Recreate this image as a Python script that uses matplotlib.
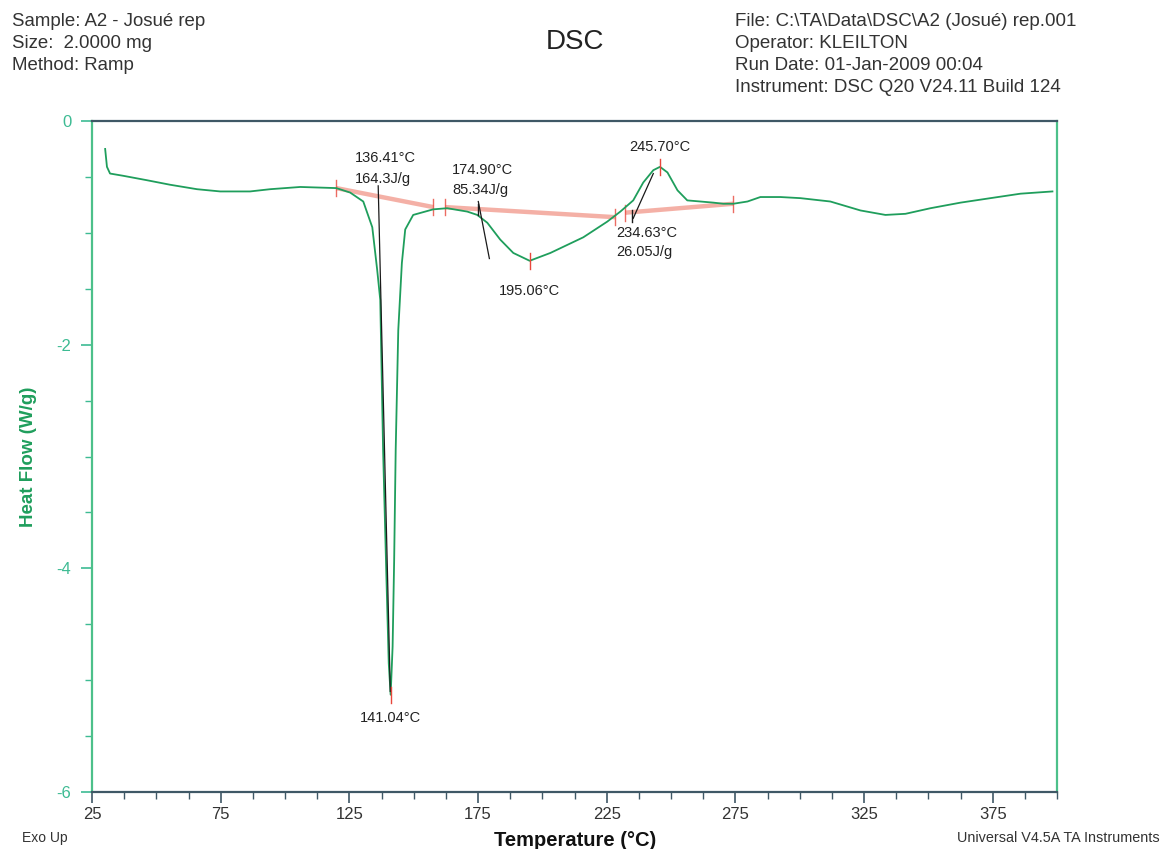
import numpy as np
import matplotlib.pyplot as plt
from matplotlib.ticker import MultipleLocator

plt.rcParams["font.family"] = ["Liberation Sans", "DejaVu Sans"]
plt.rcParams["axes.unicode_minus"] = False

# ------------------------------------------------------------
# DSC trace (temperature in degC, heat flow in W/g)
# ------------------------------------------------------------
TEMP = [30.1, 30.8, 32.0, 37.1, 46.4, 55.3, 65.8, 74.8, 86.4, 94.2,
        105.9, 119.9, 125.3, 130.4, 133.9, 135.8, 137.0, 138.1, 139.3, 140.3,
        141.04, 141.8, 142.4, 143.0, 144.0, 145.4, 146.7, 149.8, 157.6, 163.0,
        170.8, 174.7, 178.6, 183.6, 188.7, 195.06, 203.1, 215.9, 225.2, 230.3,
        235.3, 239.2, 243.1, 245.70, 248.6, 252.5, 256.3, 261.4, 266.4, 270.3,
        274.2, 279.7, 284.7, 292.5, 300.3, 311.9, 323.6, 333.3, 341.1, 350.8,
        362.5, 374.1, 385.8, 398.2]
HEAT_FLOW = [-0.25, -0.41, -0.47, -0.49, -0.53, -0.57, -0.61, -0.63, -0.63, -0.61,
             -0.59, -0.60, -0.64, -0.72, -0.95, -1.33, -1.60, -2.94, -4.00, -4.85,
             -5.13, -4.70, -3.93, -2.94, -1.87, -1.27, -0.97, -0.84, -0.79, -0.78,
             -0.81, -0.84, -0.91, -1.06, -1.18, -1.25, -1.18, -1.04, -0.90, -0.81,
             -0.71, -0.55, -0.44, -0.41, -0.46, -0.62, -0.71, -0.72, -0.73, -0.74,
             -0.74, -0.72, -0.68, -0.68, -0.69, -0.72, -0.80, -0.84, -0.83, -0.78,
             -0.73, -0.69, -0.65, -0.63]

# peak analysis results
PEAK_T = [141.04, 195.06, 245.70]
PEAK_HF = [-5.13, -1.25, -0.41]

ONSET_T = [136.41, 174.90, 234.63]
ONSET_HF = [-0.62, -0.79, -0.85]
ENTHALPY = [164.3, 85.34, 26.05]

# integration baselines (start T, start HF, end T, end HF)
BASE_T0 = [119.9, 162.2, 232.2]
BASE_HF0 = [-0.60, -0.77, -0.82]
BASE_T1 = [157.6, 228.3, 274.2]
BASE_HF1 = [-0.77, -0.86, -0.74]

# tangent lines at the onsets
TAN_T0 = [136.2, 175.1, 235.3]
TAN_HF0 = [-0.58, -0.72, -0.87]
TAN_T1 = [140.9, 179.4, 243.1]
TAN_HF1 = [-5.10, -1.23, -0.47]

HEADER_LEFT = ["Sample: A2 - Josué rep", "Size:  2.0000 mg", "Method: Ramp"]
HEADER_RIGHT = ["File: C:\\TA\\Data\\DSC\\A2 (Josué) rep.001",
                "Operator: KLEILTON",
                "Run Date: 01-Jan-2009 00:04",
                "Instrument: DSC Q20 V24.11 Build 124"]

GREEN = "#1f9e5c"
TEAL = "#3dbb93"
SPINE_DARK = "#3f5866"
SALMON = "#f3a397"
MARK_RED = "#e8473c"

# ------------------------------------------------------------
# figure
# ------------------------------------------------------------
fig = plt.figure(figsize=(11.62, 8.49), dpi=100)
ax = fig.add_axes([0.0792, 0.0671, 0.8305, 0.7904])

# baselines
for t0, h0, t1, h1 in zip(BASE_T0, BASE_HF0, BASE_T1, BASE_HF1):
    ax.plot([t0, t1], [h0, h1], color=SALMON, lw=3.2, alpha=0.85,
            solid_capstyle="butt", zorder=2)
    for t, h in ((t0, h0), (t1, h1)):
        ax.plot([t, t], [h - 0.07, h + 0.07], color=MARK_RED, lw=1.0,
                alpha=0.8, zorder=2)

ax.plot(TEMP, HEAT_FLOW, color=GREEN, lw=1.3, zorder=3)

# tangents
for t0, h0, t1, h1 in zip(TAN_T0, TAN_HF0, TAN_T1, TAN_HF1):
    ax.plot([t0, t1], [h0, h1], color="#1a1a1a", lw=0.9, zorder=4)

# onset markers
for t, h in zip(ONSET_T[1:], ONSET_HF[1:]):
    ax.plot([t, t], [h - 0.05, h + 0.05], color="#1a1a1a", lw=1.0, zorder=4)

# peak markers
for t, h in zip(PEAK_T, PEAK_HF):
    ax.plot([t, t], [h - 0.07, h + 0.07], color=MARK_RED, lw=1.0, zorder=5)

ann = dict(fontsize=10.5, color="#222222", zorder=6)
# onset / enthalpy labels
ax.text(ONSET_T[0] - 9.1, -0.33, f"{ONSET_T[0]:.2f}°C", ha="left", va="center", **ann)
ax.text(ONSET_T[0] - 9.1, -0.52, f"{ENTHALPY[0]:.1f}J/g", ha="left", va="center", **ann)
ax.text(ONSET_T[1] - 9.9, -0.44, f"{ONSET_T[1]:.2f}°C", ha="left", va="center", **ann)
ax.text(ONSET_T[1] - 9.9, -0.62, f"{ENTHALPY[1]:.2f}J/g", ha="left", va="center", **ann)
ax.text(ONSET_T[2] - 5.9, -1.00, f"{ONSET_T[2]:.2f}°C", ha="left", va="center", **ann)
ax.text(ONSET_T[2] - 5.9, -1.17, f"{ENTHALPY[2]:.2f}J/g", ha="left", va="center", **ann)
# peak labels
ax.text(PEAK_T[0], -5.34, f"{PEAK_T[0]:.2f}°C", ha="center", va="center", **ann)
ax.text(PEAK_T[1], -1.52, f"{PEAK_T[1]:.2f}°C", ha="center", va="center", **ann)
ax.text(PEAK_T[2], -0.23, f"{PEAK_T[2]:.2f}°C", ha="center", va="center", **ann)

# axes styling
ax.set_xlim(25, 400)
ax.set_ylim(-6, 0)
ax.xaxis.set_minor_locator(MultipleLocator(12.5))
ax.yaxis.set_major_locator(MultipleLocator(2))
ax.yaxis.set_minor_locator(MultipleLocator(0.5))
ax.set_xticks(np.arange(25, 400, 50))

ax.tick_params(axis="x", which="major", length=8, width=1.2, color=SPINE_DARK,
               labelsize=12, labelcolor="#333333", pad=3)
ax.tick_params(axis="x", which="minor", length=5, width=1.0, color=SPINE_DARK)
ax.tick_params(axis="y", which="major", length=8, width=1.2, color=TEAL,
               labelsize=12, labelcolor=TEAL, pad=7)
ax.tick_params(axis="y", which="minor", length=5, width=1.0, color=TEAL)

ax.spines["left"].set_color("#4cc08a")
ax.spines["right"].set_color("#4cc08a")
ax.spines["top"].set_color(SPINE_DARK)
ax.spines["bottom"].set_color(SPINE_DARK)
for s in ax.spines.values():
    s.set_linewidth(1.6)

ax.set_ylabel("Heat Flow (W/g)", fontsize=13.5, fontweight="bold", color=GREEN,
              labelpad=14)

# header / footer
for i, line in enumerate(HEADER_LEFT):
    fig.text(12 / 1162, 1 - (22 + 22 * i) / 849, line, fontsize=13.4,
             color="#333333", ha="left", va="center")
for i, line in enumerate(HEADER_RIGHT):
    fig.text(735 / 1162, 1 - (22 + 22 * i) / 849, line, fontsize=13.5,
             color="#333333", ha="left", va="center")
fig.text(575 / 1162, 1 - 42 / 849, "DSC", fontsize=20, color="#222222",
         ha="center", va="center")

fig.text(575 / 1162, 8 / 849, "Temperature (°C)", fontsize=14.5, fontweight="bold",
         color="#111111", ha="center", va="center")
fig.text(22 / 1162, 11 / 849, "Exo Up", fontsize=10, color="#333333",
         ha="left", va="center")
fig.text(1160 / 1162, 11 / 849, "Universal V4.5A TA Instruments", fontsize=10.4,
         color="#333333", ha="right", va="center")

fig.savefig("out.png", dpi=100)
